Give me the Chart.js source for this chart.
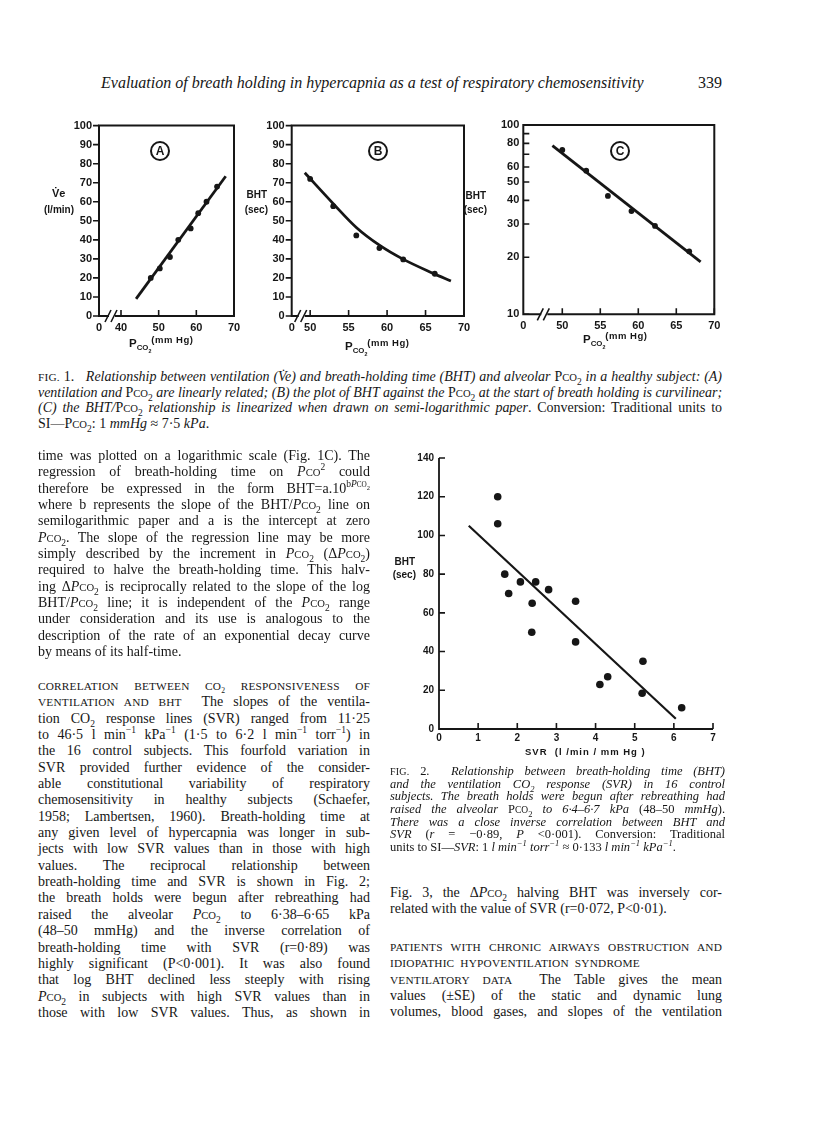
<!DOCTYPE html>
<html>
<head>
<meta charset="utf-8">
<script src="https://cdn.jsdelivr.net/npm/chart.js@4.4.1/dist/chart.umd.min.js"></script>
<style>
body { margin:0; width:816px; height:1121px; background:#fff; position:relative; overflow:hidden;
       font-family:"Liberation Serif", serif; color:#161616; }
canvas { position:absolute; }
.lab { position:absolute; font-family:"Liberation Sans", sans-serif; font-weight:bold; font-size:10px; white-space:nowrap; line-height:11px; }
.circ { position:absolute; width:16px; height:16px; border:2px solid #161616; border-radius:50%;
        font:bold 12px "Liberation Sans", sans-serif; text-align:center; line-height:16px; }
.col { position:absolute; font-size:14px; }
.col div, .cap div { white-space:nowrap; text-align:justify; text-align-last:justify; }
.col div { height:16.35px; line-height:16.35px; }
.col div.e, .cap div.e { text-align-last:left; }
.cap { position:absolute; font-size:12.5px; }
.cap div { height:12.7px; line-height:12.7px; }
.cap.big { font-size:14px; }
.cap.big div { height:15.5px; line-height:15.5px; }
.sm { font-size:76%; }
.hd { font-size:11.3px; letter-spacing:0.2px; }
sub, sup { font-size:68%; line-height:0; }
.hdr { position:absolute; top:74px; font-size:16px; font-style:italic; white-space:nowrap; }
</style>
</head>
<body>

<div class="hdr" style="left:101px">Evaluation of breath holding in hypercapnia as a test of respiratory chemosensitivity</div>
<div class="hdr" style="right:94px;font-style:normal">339</div>

<canvas id="chartA" width="200" height="235" style="left:50px;top:112px"></canvas>
<canvas id="chartB" width="215" height="235" style="left:262px;top:112px"></canvas>
<canvas id="chartC" width="245" height="235" style="left:485px;top:112px"></canvas>
<canvas id="chart2" width="350" height="310" style="left:380px;top:445px"></canvas>

<!-- axis titles and panel letters -->
<div class="lab" style="left:52px;top:188px;font-size:11px">V&#775;e</div>
<div class="lab" style="right:742px;top:204px">(l/min)</div>
<div class="lab" style="right:549px;top:189px">BHT</div>
<div class="lab" style="right:548px;top:204px">(sec)</div>
<div class="lab" style="right:330px;top:190px">BHT</div>
<div class="lab" style="right:329px;top:204px">(sec)</div>
<div class="lab" style="right:401px;top:556px">BHT</div>
<div class="lab" style="right:400px;top:569px">(sec)</div>

<div class="circ" style="left:150px;top:141px">A</div>
<div class="circ" style="left:368px;top:141px">B</div>
<div class="circ" style="left:610px;top:141px">C</div>

<div class="lab" style="left:129px;top:338px;font-size:11.5px">P<sub>CO<sub>2</sub></sub><span style="position:relative;top:-4px;font-size:9.5px;letter-spacing:0.5px">(mm Hg)</span></div>
<div class="lab" style="left:345px;top:341px;font-size:11.5px">P<sub>CO<sub>2</sub></sub><span style="position:relative;top:-4px;font-size:9.5px;letter-spacing:0.5px">(mm Hg)</span></div>
<div class="lab" style="left:583px;top:334px;font-size:11.5px">P<sub>CO<sub>2</sub></sub><span style="position:relative;top:-4px;font-size:9.5px;letter-spacing:0.5px">(mm Hg)</span></div>
<div class="lab" style="left:525px;top:746px;font-size:9.5px;letter-spacing:1px">SVR &nbsp;(l /min / mm Hg )</div>

<!-- Fig. 1 caption -->
<div class="cap big" style="left:38px;top:369px;width:684px">
  <div><span class="hd">FIG.</span> 1.&nbsp;&nbsp; <i>Relationship between ventilation (V&#775;e) and breath-holding time (BHT) and alveolar</i> P<span class="sm">CO</span><sub>2</sub> <i>in a healthy subject: (A)</i></div>
  <div><i>ventilation and</i> P<span class="sm">CO</span><sub>2</sub> <i>are linearly related; (B) the plot of BHT against the</i> P<span class="sm">CO</span><sub>2</sub> <i>at the start of breath holding is curvilinear;</i></div>
  <div><i>(C) the BHT/</i>P<span class="sm">CO</span><sub>2</sub> <i>relationship is linearized when drawn on semi-logarithmic paper</i>. Conversion: Traditional units to</div>
  <div class="e">SI—P<span class="sm">CO</span><sub>2</sub>: 1 <i>mmHg</i> ≈ 7·5 <i>kPa</i>.</div>
</div>

<!-- left column -->
<div class="col" style="left:38px;top:448px;width:332px">
  <div>time was plotted on a logarithmic scale (Fig. 1C). The</div>
  <div>regression of breath-holding time on <i>P</i><span class="sm">CO</span><sup>2</sup> could</div>
  <div>therefore be expressed in the form BHT=a.10<sup>b<i>P</i><span class="sm">CO</span><sub>2</sub></sup></div>
  <div>where b represents the slope of the BHT/<i>P</i><span class="sm">CO</span><sub>2</sub> line on</div>
  <div>semilogarithmic paper and a is the intercept at zero</div>
  <div><i>P</i><span class="sm">CO</span><sub>2</sub>. The slope of the regression line may be more</div>
  <div>simply described by the increment in <i>P</i><span class="sm">CO</span><sub>2</sub> (Δ<i>P</i><span class="sm">CO</span><sub>2</sub>)</div>
  <div>required to halve the breath-holding time. This halv-</div>
  <div>ing Δ<i>P</i><span class="sm">CO</span><sub>2</sub> is reciprocally related to the slope of the log</div>
  <div>BHT/<i>P</i><span class="sm">CO</span><sub>2</sub> line; it is independent of the <i>P</i><span class="sm">CO</span><sub>2</sub> range</div>
  <div>under consideration and its use is analogous to the</div>
  <div>description of the rate of an exponential decay curve</div>
  <div class="e">by means of its half-time.</div>
</div>

<div class="col" style="left:38px;top:678px;width:332px">
  <div><span class="hd">CORRELATION BETWEEN CO<sub>2</sub> RESPONSIVENESS OF</span></div>
  <div><span class="hd">VENTILATION AND BHT</span>&nbsp; The slopes of the ventila-</div>
  <div>tion CO<sub>2</sub> response lines (SVR) ranged from 11·25</div>
  <div>to 46·5 l min<sup>−1</sup> kPa<sup>−1</sup> (1·5 to 6·2 l min<sup>−1</sup> torr<sup>−1</sup>) in</div>
  <div>the 16 control subjects. This fourfold variation in</div>
  <div>SVR provided further evidence of the consider-</div>
  <div>able constitutional variability of respiratory</div>
  <div>chemosensitivity in healthy subjects (Schaefer,</div>
  <div>1958; Lambertsen, 1960). Breath-holding time at</div>
  <div>any given level of hypercapnia was longer in sub-</div>
  <div>jects with low SVR values than in those with high</div>
  <div>values. The reciprocal relationship between</div>
  <div>breath-holding time and SVR is shown in Fig. 2;</div>
  <div>the breath holds were begun after rebreathing had</div>
  <div>raised the alveolar <i>P</i><span class="sm">CO</span><sub>2</sub> to 6·38–6·65 kPa</div>
  <div>(48–50 mmHg) and the inverse correlation of</div>
  <div>breath-holding time with SVR (r=0·89) was</div>
  <div>highly significant (P&lt;0·001). It was also found</div>
  <div>that log BHT declined less steeply with rising</div>
  <div><i>P</i><span class="sm">CO</span><sub>2</sub> in subjects with high SVR values than in</div>
  <div>those with low SVR values. Thus, as shown in</div>
</div>

<!-- Fig. 2 caption -->
<div class="cap" style="left:390px;top:765px;width:335px">
  <div><span class="hd" style="font-size:10px">FIG.</span> 2.&nbsp; <i>Relationship between breath-holding time (BHT)</i></div>
  <div><i>and the ventilation CO<sub>2</sub> response (SVR) in 16 control</i></div>
  <div><i>subjects. The breath holds were begun after rebreathing had</i></div>
  <div><i>raised the alveolar</i> P<span class="sm">CO</span><sub>2</sub> <i>to 6·4–6·7 kPa</i> (48–50 <i>mmHg</i>).</div>
  <div><i>There was a close inverse correlation between BHT and</i></div>
  <div><i>SVR</i> (<i>r</i> = −0·89, <i>P</i> &lt;0·001). Conversion: Traditional</div>
  <div class="e">units to SI—<i>SVR</i>: 1 <i>l min<sup>−1</sup> torr<sup>−1</sup></i> ≈ 0·133 <i>l min<sup>−1</sup> kPa<sup>−1</sup></i>.</div>
</div>

<!-- right column -->
<div class="col" style="left:390px;top:885px;width:332px">
  <div>Fig. 3, the Δ<i>P</i><span class="sm">CO</span><sub>2</sub> halving BHT was inversely cor-</div>
  <div class="e">related with the value of SVR (r=0·072, P&lt;0·01).</div>
</div>
<div class="col" style="left:390px;top:939px;width:332px">
  <div><span class="hd">PATIENTS WITH CHRONIC AIRWAYS OBSTRUCTION AND</span></div>
  <div class="e"><span class="hd" style="word-spacing:3px">IDIOPATHIC HYPOVENTILATION SYNDROME</span></div>
  <div><span class="hd">VENTILATORY DATA</span>&nbsp; The Table gives the mean</div>
  <div>values (±SE) of the static and dynamic lung</div>
  <div>volumes, blood gases, and slopes of the ventilation</div>
</div>

<script>
// Fig 1A - ventilation vs Pco2
const pco2A = [47.9, 50.3, 53.0, 55.2, 58.5, 60.5, 62.7, 65.5];
const veA = [20, 25, 31, 40, 46, 54, 60, 68];
const fitPco2A = [44.0, 67.8];
const fitVeA = [9, 73.4];
const xTicksA = [40, 50, 60, 70];
const yTicksA = [0, 10, 20, 30, 40, 50, 60, 70, 80, 90, 100];

// Fig 1B - BHT vs Pco2 (curvilinear)
const pco2B = [50.0, 53.0, 56.0, 59.0, 62.1, 66.2];
const bhtB = [72, 57.7, 42.3, 35.7, 29.7, 22.2];
const curvePco2B = [49.3, 53, 56, 59, 62, 66, 68.3];
const curveBhtB = [75.2, 59, 46.5, 37.2, 30, 22.4, 18.4];
const xTicksB = [50, 55, 60, 65, 70];
const yTicksB = [0, 10, 20, 30, 40, 50, 60, 70, 80, 90, 100];

// Fig 1C - BHT vs Pco2 on semi-log paper
const pco2C = [50.0, 53.15, 56.0, 59.1, 62.2, 66.7];
const bhtC = [73.8, 57.4, 42.2, 35.1, 29.3, 21.5];
const fitPco2C = [48.7, 68.2];
const fitBhtC = [77.8, 18.9];
const xTicksC = [50, 55, 60, 65, 70];
const yTicksC = [10, 20, 30, 40, 50, 60, 70, 80, 90, 100];
const yLabelsC = ['10', '20', '30', '40', '50', '60', '', '80', '', '100'];

// Fig 2 - BHT vs SVR in 16 control subjects
const svr = [1.5, 1.5, 1.68, 1.78, 2.08, 2.47, 2.38, 2.37, 2.80, 3.49, 3.49, 4.11, 4.31, 5.21, 5.19, 6.20];
const bht2 = [120, 106, 80, 70, 76, 76, 65, 50, 72, 66, 45, 23, 27, 35, 18.5, 11];
const fitSvr = [0.76, 6.05];
const fitBht2 = [105, 5.3];
const xTicks2 = [0, 1, 2, 3, 4, 5, 6, 7];
const yTicks2 = [0, 20, 40, 60, 80, 100, 120, 140];

const INK = '#161616';

function pts(xs, ys) {
    return xs.map((x, i) => ({ x: x, y: ys[i] }));
}

// squeeze any justified line whose natural width is wider than its box
document.querySelectorAll('.col div, .cap div').forEach(div => {
    const probe = document.createElement('span');
    probe.innerHTML = div.innerHTML;
    probe.style.whiteSpace = 'nowrap';
    div.innerHTML = '';
    div.appendChild(probe);
    const natural = probe.getBoundingClientRect().width;
    const box = div.clientWidth;
    if (natural > box) {
        const chars = probe.textContent.length;
        div.style.letterSpacing = (-(natural - box) / chars - 0.02) + 'px';
    }
});

// draws box / axes, tick marks (in or out) and the axis break mark
const framePlugin = {
    id: 'frame',
    afterDatasetsDraw(chart, args, opts) {
        const ctx = chart.ctx;
        const a = chart.chartArea;
        const sx = chart.scales.x, sy = chart.scales.y;
        ctx.save();
        ctx.strokeStyle = INK;
        ctx.lineWidth = opts.lineWidth || 2;
        ctx.lineCap = 'butt';
        ctx.beginPath();
        if (opts.box) {
            ctx.rect(a.left, a.top, a.right - a.left, a.bottom - a.top);
        } else {
            ctx.moveTo(a.left, a.top);
            ctx.lineTo(a.left, a.bottom);
            ctx.lineTo(a.right, a.bottom);
        }
        ctx.stroke();

        const len = opts.tickLen || 6;
        ctx.lineWidth = 1.6;
        ctx.beginPath();
        (opts.xTicks || []).forEach(v => {
            const px = sx.getPixelForValue(v);
            const d = opts.xIn ? -len : len;
            ctx.moveTo(px, a.bottom);
            ctx.lineTo(px, a.bottom + d);
        });
        (opts.yTicks || []).forEach(v => {
            const py = sy.getPixelForValue(v);
            const d = opts.yIn ? len : -len;
            ctx.moveTo(a.left, py);
            ctx.lineTo(a.left + d, py);
        });
        ctx.stroke();

        if (opts.breakAt) {
            const bx = a.left + opts.breakAt;
            ctx.fillStyle = '#fff';
            ctx.fillRect(bx - 2, a.bottom - 3, 6, 6);
            ctx.lineWidth = 1.6;
            ctx.beginPath();
            [bx - 3, bx + 3].forEach(x0 => {
                ctx.moveTo(x0 - 3, a.bottom + 6);
                ctx.lineTo(x0 + 3, a.bottom - 6);
            });
            ctx.stroke();
        }
        ctx.restore();
    }
};

const tickFont = { family: 'Liberation Sans', weight: 'bold', size: 11 };

function makeScales(cfg) {
    return {
        x: {
            type: 'linear',
            min: cfg.xMin, max: cfg.xMax,
            afterBuildTicks: s => { s.ticks = [cfg.xMin].concat(cfg.xTicks).map(v => ({ value: v })); },
            afterFit: s => { s.height = cfg.xH; },
            grid: { display: false, drawTicks: false },
            border: { display: false },
            ticks: {
                autoSkip: false, maxRotation: 0, padding: cfg.xPad || 5, color: INK, font: cfg.font || tickFont,
                callback: v => (v === cfg.xMin ? '0' : String(v))
            }
        },
        y: {
            type: cfg.yType || 'linear',
            min: cfg.yMin, max: cfg.yMax,
            afterBuildTicks: s => { s.ticks = cfg.yTicks.map(v => ({ value: v })); },
            afterFit: s => { s.width = cfg.yW; },
            grid: { display: false, drawTicks: false },
            border: { display: false },
            ticks: {
                autoSkip: false, padding: cfg.yPad || 7, color: INK, font: cfg.font || tickFont,
                callback: (v, i) => (cfg.yLabels ? cfg.yLabels[i] : String(v))
            }
        }
    };
}

function dotSet(data, r) {
    return { data: data, showLine: false, pointRadius: r, pointBackgroundColor: INK, pointBorderWidth: 0 };
}

function lineSet(data, w, tension) {
    return {
        data: data, showLine: true, pointRadius: 0, borderColor: INK, borderWidth: w,
        tension: tension || 0, cubicInterpolationMode: tension ? 'monotone' : 'default'
    };
}

function baseOptions(scales, frame, pad) {
    return {
        responsive: false,
        animation: false,
        devicePixelRatio: 1,
        layout: { padding: pad },
        plugins: { legend: { display: false }, tooltip: { enabled: false }, frame: frame },
        scales: scales
    };
}

// Fig 1A
new Chart(document.getElementById('chartA'), {
    type: 'scatter',
    data: { datasets: [dotSet(pts(pco2A, veA), 2.9), lineSet(pts(fitPco2A, fitVeA), 2.8)] },
    options: baseOptions(
        makeScales({ xMin: 34.16, xMax: 70, xTicks: xTicksA, xH: 31, yMin: 0, yMax: 100, yTicks: yTicksA, yW: 49 }),
        { box: true, xTicks: xTicksA, xIn: true, yTicks: yTicksA, yIn: false, breakAt: 12 },
        { top: 13, right: 16, left: 0, bottom: 0 }),
    plugins: [framePlugin]
});

// Fig 1B
new Chart(document.getElementById('chartB'), {
    type: 'scatter',
    data: { datasets: [dotSet(pts(pco2B, bhtB), 2.9), lineSet(pts(curvePco2B, curveBhtB), 2.8, 0.4)] },
    options: baseOptions(
        makeScales({ xMin: 47.6, xMax: 70, xTicks: xTicksB, xH: 31, yMin: 0, yMax: 100, yTicks: yTicksB, yW: 29.7, yPad: 7 }),
        { box: true, xTicks: xTicksB, xIn: true, yTicks: yTicksB, yIn: false, breakAt: 9 },
        { top: 13, right: 13, left: 0, bottom: 0 }),
    plugins: [framePlugin]
});

// Fig 1C
new Chart(document.getElementById('chartC'), {
    type: 'scatter',
    data: { datasets: [dotSet(pts(pco2C, bhtC), 2.9), lineSet(pts(fitPco2C, fitBhtC), 2.8)] },
    options: baseOptions(
        makeScales({ xMin: 44.87, xMax: 70, xTicks: xTicksC, xH: 32.7, yType: 'logarithmic', yMin: 10, yMax: 100,
                     yTicks: yTicksC, yLabels: yLabelsC, yW: 38.3, yPad: 4 }),
        { box: true, xTicks: xTicksC, xIn: true, yTicks: yTicksC, yIn: true, breakAt: 20 },
        { top: 13, right: 15.7, left: 0, bottom: 0 }),
    plugins: [framePlugin]
});

// Fig 2
new Chart(document.getElementById('chart2'), {
    type: 'scatter',
    data: { datasets: [dotSet(pts(svr, bht2), 3.8), lineSet(pts(fitSvr, fitBht2), 2.2)] },
    options: baseOptions(
        makeScales({ xMin: 0, xMax: 7, xTicks: xTicks2.slice(1), xH: 26, xPad: 3, yMin: 0, yMax: 140,
                     yTicks: yTicks2, yW: 59, yPad: 5, font: { family: 'Liberation Sans', weight: 'bold', size: 10 } }),
        { box: false, xTicks: xTicks2.slice(1), xIn: true, yTicks: yTicks2.slice(1), yIn: true, lineWidth: 1.8 },
        { top: 13, right: 17, left: 0, bottom: 0 }),
    plugins: [framePlugin]
});
</script>
</body>
</html>
